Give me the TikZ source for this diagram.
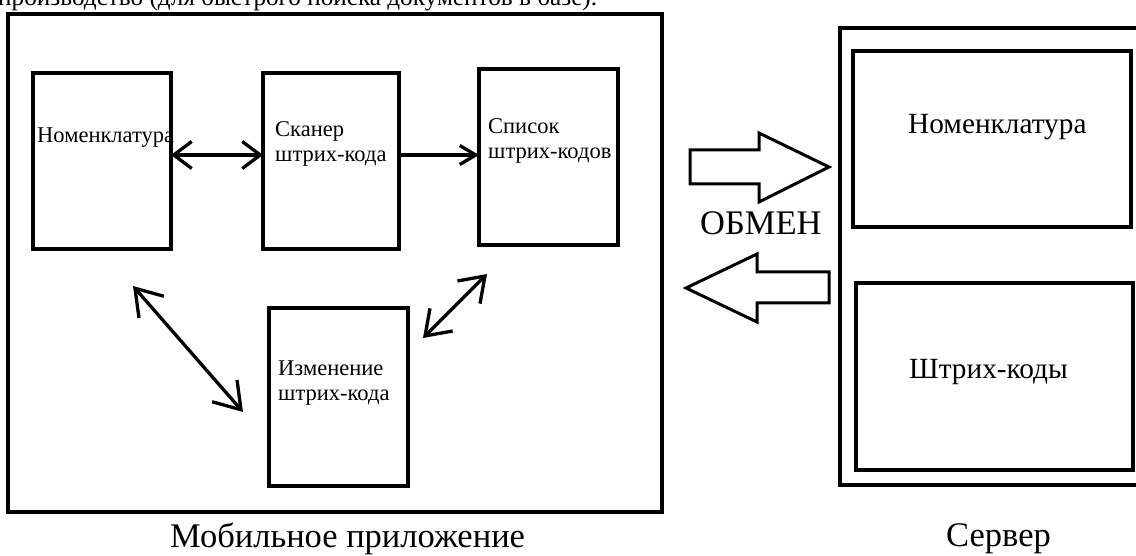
\documentclass[tikz,border=0pt]{standalone}
\usepackage{fontspec}
\setmainfont{Liberation Serif}
\usetikzlibrary{arrows.meta,calc}
\begin{document}
\begin{tikzpicture}[x=1pt,y=-1pt,
  box/.style={draw,line width=3.5pt,inner sep=0pt,outer sep=0pt},
  frame/.style={draw,line width=4pt},
  lbl/.style={anchor=base west,inner sep=0pt,font=\fontsize{22.5}{26}\selectfont},
  big/.style={anchor=base west,inner sep=0pt,font=\fontsize{29.3}{33}\selectfont},
  caption/.style={anchor=base west,inner sep=0pt,font=\fontsize{34.5}{38}\selectfont},
  link/.style={line width=3.3pt},
  block/.style={draw,line width=3pt,line join=miter}]
\useasboundingbox (0,0) rectangle (1136,556);
\fill[white] (0,0) rectangle (1136,556);
\clip (0,0) rectangle (1136,556);

% running text of the page above the figure
\node[anchor=base west,inner sep=0pt,font=\fontsize{25.2}{29}\selectfont] (run) at (-2,6)
  {производство (для быстрого поиска документов в базе).};

% mobile application
\draw[frame] (8,14) rectangle (662,512);
\node[box,minimum width=138pt,minimum height=176pt] (nom) at (102,161) {};
\node[box,minimum width=136pt,minimum height=176pt] (scan) at (331,161) {};
\node[box,minimum width=139pt,minimum height=176pt] (list) at (548.5,157) {};
\node[box,minimum width=139pt,minimum height=178pt] (izm) at (338.5,397) {};

\node[lbl] (tnom) at (37,143) {Номенклатура};
\node[lbl] (tscan1) at (275,137) {Сканер};
\node[lbl] (tscan2) at (275,162) {штрих-кода};
\node[lbl] (tlist1) at (488,134) {Список};
\node[lbl] (tlist2) at (488,159) {штрих-кодов};
\node[lbl] (tizm1) at (278,375) {Изменение};
\node[lbl] (tizm2) at (278,400) {штрих-кода};

\draw[link,{Straight Barb[length=18pt,width=27pt]}-{Straight Barb[length=18pt,width=27pt]}]
  ([yshift=6pt]nom.east) -- ([yshift=6pt]scan.west);
\draw[link,-{Straight Barb[length=16pt,width=19pt]}]
  ([yshift=6pt]scan.east) -- ([yshift=2pt]list.west);

\coordinate (d1a) at (133,286);
\coordinate (d1b) at (243,412);
\coordinate (d2a) at (487,274);
\coordinate (d2b) at (423,338);
\draw[link,{Straight Barb[length=25pt,width=33pt]}-{Straight Barb[length=25pt,width=33pt]}]
  (d1a) -- (d1b);
\draw[link,{Straight Barb[length=23pt,width=32pt]}-{Straight Barb[length=23pt,width=32pt]}]
  (d2a) -- (d2b);

\node[caption] (tmob) at (170,547) {Мобильное приложение};

% exchange
\draw[block] (690,150) -- (759,150) -- (759,133) -- (829,167) -- (759,202)
  -- (759,184) -- (690,184) -- cycle;
\draw[block] (829,272) -- (757,272) -- (757,254) -- (686,288) -- (757,322)
  -- (757,303) -- (829,303) -- cycle;
\node[caption] (tobm) at (700,235) {ОБМЕН};

% server
\draw[frame] (840,28) rectangle (1150,485);
\node[box,minimum width=278pt,minimum height=176pt] (snom) at (992,139) {};
\node[box,minimum width=277pt,minimum height=187pt] (sbar) at (994.5,376.5) {};
\node[big] (tsnom) at (908,134) {Номенклатура};
\node[big] (tsbar) at (909,378) {Штрих-коды};
\node[caption] (tsrv) at (946,546) {Сервер};
\end{tikzpicture}
\end{document}
